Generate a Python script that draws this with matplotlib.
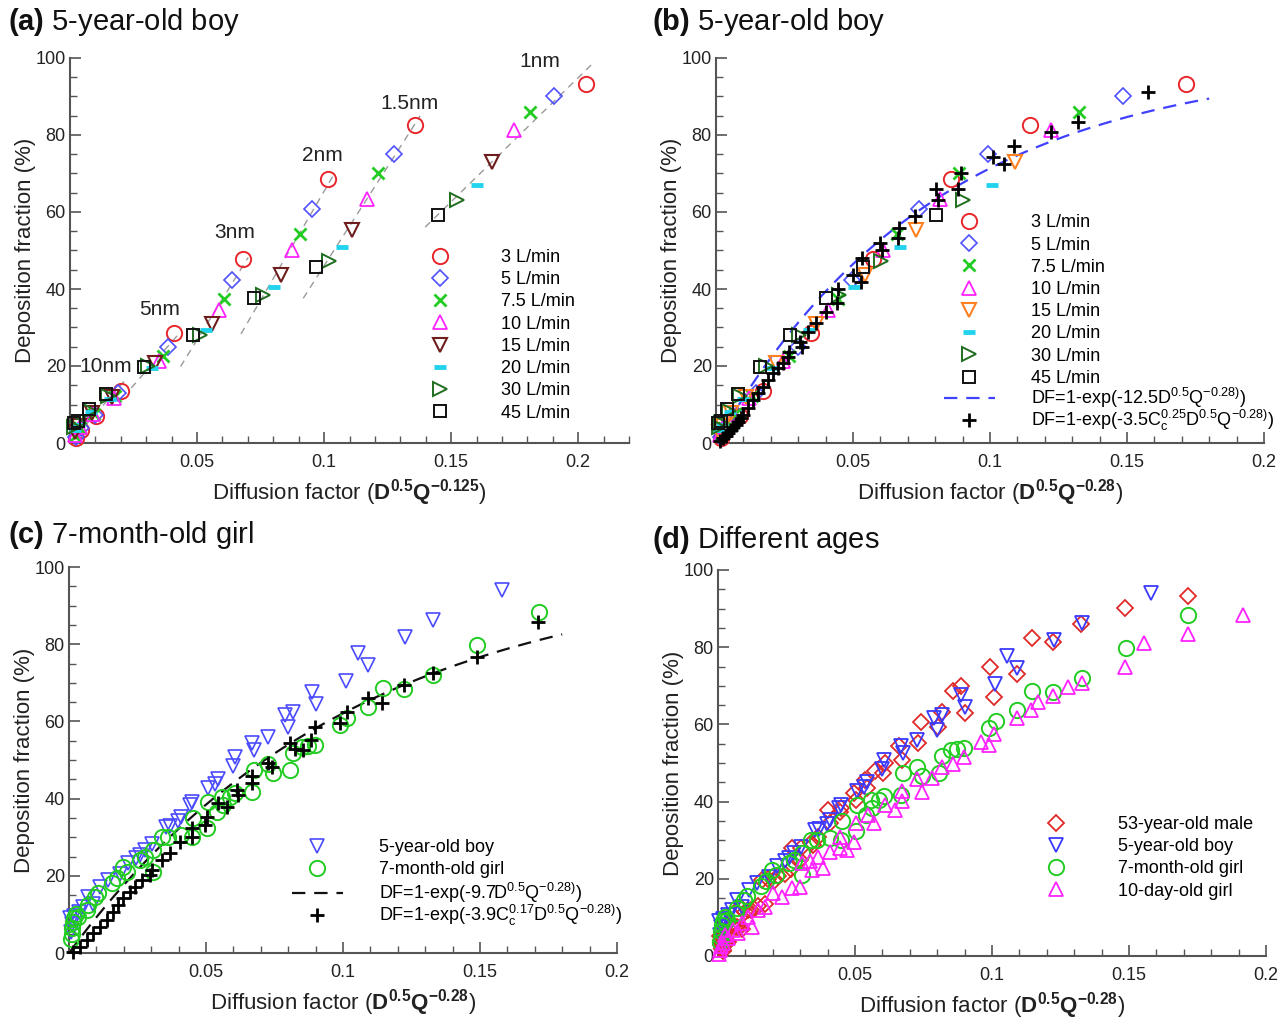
import numpy as np
import matplotlib.pyplot as plt

plt.rcParams['font.family'] = ['Liberation Sans', 'DejaVu Sans']
plt.rcParams['mathtext.fontset'] = 'custom'
plt.rcParams['mathtext.rm'] = 'Liberation Sans'
plt.rcParams['mathtext.bf'] = 'Liberation Sans:bold'
plt.rcParams['mathtext.it'] = 'Liberation Sans:italic'
plt.rcParams['mathtext.sf'] = 'Liberation Sans'

# ---- 5-year-old boy, rows = particle size, columns = flow rate ----
flows = ['3 L/min', '5 L/min', '7.5 L/min', '10 L/min',
         '15 L/min', '20 L/min', '30 L/min', '45 L/min']
sizes = ['1nm', '1.5nm', '2nm', '3nm', '5nm', '10nm', '20nm', '50nm', '100nm']

# diffusion factor D^0.5 Q^-0.125 (panel a)
xa_boy = [
    [0.2032, 0.1906, 0.1812, 0.1748, 0.1662, 0.1603, 0.1524, 0.1448],
    [0.1358, 0.1274, 0.1211, 0.1168, 0.1111, 0.1071, 0.1019, 0.0968],
    [0.1015, 0.0952, 0.0905, 0.0873, 0.0830, 0.0801, 0.0761, 0.0723],
    [0.0681, 0.0639, 0.0607, 0.0586, 0.0557, 0.0537, 0.0511, 0.0485],
    [0.0409, 0.0384, 0.0365, 0.0352, 0.0335, 0.0323, 0.0307, 0.0291],
    [0.0201, 0.0189, 0.0179, 0.0173, 0.0164, 0.0159, 0.0151, 0.0143],
    [0.0104, 0.0098, 0.0093, 0.0089, 0.0085, 0.0082, 0.0078, 0.0074],
    [0.0045, 0.0042, 0.0040, 0.0039, 0.0037, 0.0036, 0.0034, 0.0032],
    [0.0023, 0.0022, 0.0021, 0.0020, 0.0019, 0.0018, 0.0017, 0.0016],
]
# diffusion factor D^0.5 Q^-0.28 (panels b, d)
xb_boy = [
    [0.1714, 0.1485, 0.1326, 0.1223, 0.1092, 0.1008, 0.0900, 0.0803],
    [0.1145, 0.0993, 0.0886, 0.0817, 0.0730, 0.0673, 0.0602, 0.0537],
    [0.0856, 0.0742, 0.0662, 0.0611, 0.0545, 0.0504, 0.0449, 0.0401],
    [0.0574, 0.0498, 0.0444, 0.0410, 0.0366, 0.0338, 0.0302, 0.0269],
    [0.0345, 0.0299, 0.0267, 0.0246, 0.0220, 0.0203, 0.0181, 0.0161],
    [0.0170, 0.0147, 0.0131, 0.0121, 0.0108, 0.0100, 0.0089, 0.0079],
    [0.0088, 0.0076, 0.0068, 0.0062, 0.0056, 0.0052, 0.0046, 0.0041],
    [0.0038, 0.0033, 0.0029, 0.0027, 0.0024, 0.0023, 0.0020, 0.0018],
    [0.0019, 0.0017, 0.0015, 0.0014, 0.0012, 0.0011, 0.0010, 0.0009],
]
df_boy = [
    [93.3, 90.2, 85.9, 81.3, 73.1, 67.1, 63.0, 59.2],
    [82.5, 75.0, 70.0, 63.3, 55.3, 50.8, 47.3, 45.6],
    [68.7, 60.7, 54.4, 50.1, 43.6, 40.4, 38.4, 37.7],
    [47.8, 42.3, 37.3, 34.5, 30.9, 29.4, 28.1, 28.1],
    [28.7, 25.0, 22.6, 21.2, 20.7, 19.4, 19.9, 19.7],
    [13.4, 13.0, 12.2, 11.8, 12.0, 11.5, 12.2, 12.6],
    [6.9, 7.3, 7.5, 7.6, 7.9, 8.0, 8.4, 8.8],
    [3.5, 3.8, 4.0, 4.2, 4.5, 4.8, 5.2, 5.8],
    [1.2, 1.5, 1.8, 2.2, 2.8, 3.5, 4.2, 5.2],
]
size_label_pos = [(0.185, 99.0), (0.1335, 88.3), (0.0992, 74.8),
                  (0.065, 54.8), (0.0354, 34.8), (0.0142, 20.0)]

# model with slip correction, panel b
bplus_x = [0.1578, 0.1322, 0.1221, 0.1089, 0.1010, 0.1052, 0.0894, 0.0802, 0.0882,
           0.0811, 0.0726, 0.0669, 0.0665, 0.0599, 0.0605, 0.0532, 0.0501, 0.0528,
           0.0446, 0.0440, 0.0401, 0.0365, 0.0337, 0.0307, 0.0313, 0.0268, 0.0264,
           0.0246, 0.0227, 0.0209, 0.0191, 0.0173, 0.0154, 0.0136, 0.0118, 0.0100,
           0.0090, 0.0081, 0.0072, 0.0063, 0.0055, 0.0045, 0.0036, 0.0027, 0.0015]
bplus_y = [91.2, 83.5, 80.9, 77.1, 74.4, 72.4, 70.2, 66.1, 66.1,
           63.1, 59.0, 55.8, 53.2, 51.9, 50.1, 48.0, 43.6, 41.9,
           39.9, 36.3, 34.1, 31.1, 28.9, 26.3, 25.0, 23.7, 22.4,
           20.7, 19.4, 18.1, 16.4, 14.6, 12.9, 11.2, 9.0, 7.3,
           6.4, 5.5, 4.8, 4.2, 3.4, 2.5, 1.8, 1.2, 0.4]
coef_b = 12.5

# ---- panels c, d ----
boy_x = [0.1581, 0.1327, 0.1226, 0.1056, 0.1092, 0.1010, 0.0886, 0.0900, 0.0819,
         0.0788, 0.0801, 0.0727, 0.0667, 0.0676, 0.0606, 0.0600, 0.0545, 0.0533,
         0.0508, 0.0448, 0.0442, 0.0409, 0.0399, 0.0369, 0.0354, 0.0302, 0.0277,
         0.0259, 0.0245, 0.0216, 0.0185, 0.0143, 0.0113, 0.0086, 0.0071, 0.0050,
         0.0035, 0.0020, 0.0012, 0.0008, 0.0005]
boy_y = [94.0, 86.3, 81.9, 77.6, 74.6, 70.5, 67.7, 64.4, 62.5,
         61.7, 58.5, 56.0, 54.3, 52.6, 50.9, 48.4, 45.2, 43.8,
         42.7, 39.2, 38.3, 35.3, 34.3, 32.9, 32.6, 28.2, 26.7,
         25.4, 24.5, 23.4, 20.5, 18.9, 17.2, 12.8, 14.6, 12.0,
         10.5, 9.5, 7.5, 5.5, 9.0]
girl7m_x = [0.1715, 0.1488, 0.1327, 0.1224, 0.1147, 0.1092, 0.1013, 0.0989, 0.0898,
            0.0873, 0.0849, 0.0819, 0.0807, 0.0746, 0.0727, 0.0676, 0.0667, 0.0606,
            0.0588, 0.0563, 0.0557, 0.0539, 0.0508, 0.0502, 0.0454, 0.0448, 0.0409,
            0.0362, 0.0338, 0.0308, 0.0305, 0.0277, 0.0259, 0.0211, 0.0198, 0.0174,
            0.0156, 0.0107, 0.0095, 0.0071, 0.0065, 0.0034, 0.0025, 0.0020, 0.0015,
            0.0012, 0.0010, 0.0008]
girl7m_y = [88.4, 79.8, 72.0, 68.3, 68.6, 63.8, 61.0, 59.1, 53.9,
            53.6, 53.4, 51.7, 47.4, 46.6, 49.0, 47.4, 41.8, 41.4,
            40.3, 38.3, 40.5, 36.6, 39.2, 32.3, 34.9, 30.1, 30.6,
            30.1, 30.1, 26.7, 21.0, 24.9, 24.1, 21.1, 22.4, 19.4,
            18.1, 15.5, 14.6, 12.4, 11.1, 9.4, 10.0, 9.0, 8.0,
            6.5, 5.0, 3.5]
cplus_x = [0.1713, 0.1488, 0.1327, 0.1224, 0.1141, 0.1092, 0.1013, 0.0989, 0.0898,
           0.0883, 0.0855, 0.0825, 0.0807, 0.0740, 0.0727, 0.0667, 0.0667, 0.0612,
           0.0618, 0.0576, 0.0545, 0.0503, 0.0496, 0.0448, 0.0448, 0.0405, 0.0369,
           0.0338, 0.0302, 0.0296, 0.0265, 0.0241, 0.0223, 0.0198, 0.0180, 0.0162,
           0.0138, 0.0113, 0.0089, 0.0065, 0.0040, 0.0016]
cplus_y = [85.8, 76.6, 72.5, 69.4, 64.7, 66.0, 62.5, 59.5, 58.6,
           55.2, 52.6, 52.8, 54.3, 48.3, 49.1, 45.9, 44.0, 42.2,
           40.9, 37.9, 38.8, 35.3, 33.2, 32.3, 30.1, 28.8, 25.8,
           24.1, 21.5, 20.2, 18.9, 17.2, 15.9, 14.2, 12.4, 10.7,
           8.5, 6.8, 5.1, 3.4, 1.6, 0.3]
coef_c = 9.7
girl10d_x = [0.1917, 0.1714, 0.1555, 0.1485, 0.1327, 0.1279, 0.1224, 0.1167, 0.1141,
             0.1092, 0.1008, 0.0990, 0.0960, 0.0898, 0.0859, 0.0816, 0.0780, 0.0746,
             0.0725, 0.0670, 0.0670, 0.0646, 0.0609, 0.0571, 0.0548, 0.0502, 0.0498,
             0.0470, 0.0445, 0.0445, 0.0409, 0.0384, 0.0366, 0.0342, 0.0336, 0.0305,
             0.0299, 0.0269, 0.0232, 0.0202, 0.0172, 0.0147, 0.0123, 0.0111, 0.0086,
             0.0074, 0.0056, 0.0038, 0.0025, 0.0019, 0.0012, 0.0008, 0.0005]
girl10d_y = [88.3, 83.4, 81.2, 74.8, 70.6, 69.8, 67.4, 65.9, 63.7,
             61.6, 57.4, 54.7, 55.5, 51.5, 49.7, 48.9, 46.2, 42.6,
             45.8, 42.8, 40.2, 37.8, 39.1, 34.5, 36.5, 34.4, 29.6,
             27.5, 30.9, 27.9, 27.0, 22.7, 25.7, 22.3, 24.7, 24.0,
             18.0, 17.5, 15.4, 16.2, 12.8, 11.9, 7.6, 10.2, 8.5,
             5.9, 6.7, 4.6, 5.5, 3.3, 2.5, 1.5, 0.5]

xa_boy = np.array(xa_boy)
xb_boy = np.array(xb_boy)
df_boy = np.array(df_boy)

W, H = 1286, 1019
fig = plt.figure(figsize=(W / 100, H / 100), dpi=100)


def px_axes(x0, y0, x1, y1):
    return fig.add_axes([x0 / W, 1 - y1 / H, (x1 - x0) / W, (y1 - y0) / H])


axc_color = '#555555'


def style(ax, xmax, xlabel):
    ax.set_xlim(0, xmax)
    ax.set_ylim(0, 100)
    for s in ['top', 'right']:
        ax.spines[s].set_visible(False)
    for s in ['left', 'bottom']:
        ax.spines[s].set_color(axc_color)
        ax.spines[s].set_linewidth(1.5)
    ax.set_xticks([0.05, 0.1, 0.15, 0.2])
    ax.set_xticklabels(['0.05', '0.1', '0.15', '0.2'])
    ax.set_xticks(np.arange(0.01, xmax + 1e-9, 0.01), minor=True)
    ax.set_yticks([0, 20, 40, 60, 80, 100])
    ax.set_yticks(np.arange(0, 101, 5), minor=True)
    ax.tick_params(which='both', direction='in', color=axc_color, labelsize=13,
                   labelcolor='#222222')
    ax.tick_params(which='major', length=8, width=1.2)
    ax.tick_params(which='minor', length=5, width=1.0)
    ax.tick_params(axis='x', pad=8)
    ax.tick_params(axis='y', pad=3)
    ax.set_ylabel('Deposition fraction (%)', fontsize=16, labelpad=0, color='#222222')
    ax.set_xlabel(xlabel, fontsize=16, labelpad=4, color='#222222')


def legend(ax, x, y, handles=None, spacing=0.29):
    kw = dict(loc='upper left', bbox_to_anchor=(x, y), frameon=False, fontsize=13,
              handlelength=2.8, handletextpad=2.0, labelspacing=spacing,
              borderaxespad=0, borderpad=0, numpoints=1)
    if handles is None:
        return ax.legend(**kw)
    leg = ax.legend(handles=handles, **kw)
    return leg


flow_styles = [
    dict(marker='o', color='#e8262b', ms=11, mfc='none', mew=1.4),
    dict(marker='D', color='#5050ff', ms=8.5, mfc='none', mew=1.2),
    dict(marker='x', color='#22cc22', ms=8, mew=2.0),
    dict(marker='^', color='#ff22ff', ms=9.5, mfc='none', mew=1.3),
    dict(marker='v', color='#6e1c1c', ms=9.5, mfc='none', mew=1.5),
    dict(marker='_', color='#22d3ee', ms=8, mew=3.5),
    dict(marker='>', color='#1f6e1f', ms=9.5, mfc='none', mew=1.4),
    dict(marker='s', color='#111111', ms=8, mfc='none', mew=1.4),
]
xlab_125 = r'Diffusion factor ($\mathbf{D^{0.5}Q^{-0.125}}$)'
xlab_28 = r'Diffusion factor ($\mathbf{D^{0.5}Q^{-0.28}}$)'

# ---------------- (a) ----------------
ax = px_axes(70, 58, 629, 443)
style(ax, 0.22, xlab_125)
for i in range(5):
    k, b = np.polyfit(xa_boy[i], df_boy[i], 1)
    xs = np.array([xa_boy[i].min() - 0.005, xa_boy[i].max() + 0.002])
    ax.plot(xs, k * xs + b, color='#9a9a9a', lw=1.0, dashes=(5, 4), zorder=1)
small = np.concatenate([xa_boy[5], xa_boy[6]])
k = np.sum(small * np.concatenate([df_boy[5], df_boy[6]])) / np.sum(small ** 2)
xs = np.array([0.0, 0.0225])
ax.plot(xs, k * xs, color='#9a9a9a', lw=1.0, dashes=(5, 4), zorder=1)
for j, lab in enumerate(flows):
    ax.plot(xa_boy[:, j], df_boy[:, j], ls='none', label=lab, clip_on=False,
            zorder=3, **flow_styles[j])
for lab, (tx, ty) in zip(sizes, size_label_pos):
    ax.text(tx, ty, lab, fontsize=15, ha='center', va='center', color='#222222')
legend(ax, 0.616, 0.504)

# ---------------- (b) ----------------
ax = px_axes(716, 58, 1264, 443)
style(ax, 0.2, xlab_28)
styles_b = [dict(s) for s in flow_styles]
styles_b[4]['color'] = '#ff8020'
flow_handles = []
for j, lab in enumerate(flows):
    h, = ax.plot(xb_boy[:, j], df_boy[:, j], ls='none', label=lab, clip_on=False,
                 zorder=3, **styles_b[j])
    flow_handles.append(h)
xc = np.linspace(0, 0.18, 120)
h1, = ax.plot(xc, 100 * (1 - np.exp(-coef_b * xc)), color='#4040ff', lw=1.6,
              dashes=(6, 4), label=r'DF=1-exp(-12.5D$^{0.5}$Q$^{-0.28)}$)', zorder=2)
h2, = ax.plot(bplus_x, bplus_y, ls='none', marker='+', ms=10, mew=2, color='black',
              clip_on=False, zorder=4,
              label=r'DF=1-exp(-3.5C$_\mathrm{c}^{0.25}$D$^{0.5}$Q$^{-0.28)}$)')
leg = legend(ax, 0.416, 0.594, flow_handles)
ax.add_artist(leg)
legend(ax, 0.416, 0.148, [h1, h2], spacing=-0.12)

# ---------------- (c) ----------------
ax = px_axes(69, 567, 617, 953)
style(ax, 0.2, xlab_28)
g1, = ax.plot(boy_x, boy_y, ls='none', marker='v', ms=9.5, mfc='none', mew=1.2,
              color='#4a4aff', clip_on=False, zorder=3, label='5-year-old boy')
g2, = ax.plot(girl7m_x, girl7m_y, ls='none', marker='o', ms=11, mfc='none', mew=1.4,
              color='#22cc22', clip_on=False, zorder=3, label='7-month-old girl')
g3, = ax.plot(xc, 100 * (1 - np.exp(-coef_c * xc)), color='#111111', lw=1.6,
              dashes=(6, 4), label=r'DF=1-exp(-9.7D$^{0.5}$Q$^{-0.28)}$)', zorder=2)
g4, = ax.plot(cplus_x, cplus_y, ls='none', marker='+', ms=10, mew=2, color='black',
              clip_on=False, zorder=4,
              label=r'DF=1-exp(-3.9C$_\mathrm{c}^{0.17}$D$^{0.5}$Q$^{-0.28)}$)')
leg = legend(ax, 0.407, 0.295, [g1, g2])
ax.add_artist(leg)
legend(ax, 0.407, 0.186, [g3, g4], spacing=-0.12)

# ---------------- (d) ----------------
ax = px_axes(718, 570, 1266, 956)
style(ax, 0.2, xlab_28)
ax.plot(xb_boy.ravel(), df_boy.ravel(), ls='none', marker='D', ms=8.5, mfc='none',
        mew=1.3, color='#e02a2a', clip_on=False, zorder=3, label='53-year-old male')
ax.plot(boy_x, boy_y, ls='none', marker='v', ms=9.5, mfc='none', mew=1.3,
        color='#3a3aff', clip_on=False, zorder=3, label='5-year-old boy')
ax.plot(girl7m_x, girl7m_y, ls='none', marker='o', ms=11, mfc='none', mew=1.4,
        color='#22cc22', clip_on=False, zorder=3, label='7-month-old girl')
ax.plot(girl10d_x, girl10d_y, ls='none', marker='^', ms=9.5, mfc='none', mew=1.3,
        color='#ff22ff', clip_on=False, zorder=3, label='10-day-old girl')
legend(ax, 0.571, 0.363)

# panel titles
for tx, ty, letter, name in [(8, 22, 'a', '5-year-old boy'), (652, 22, 'b', '5-year-old boy'),
                             (8, 535, 'c', '7-month-old girl'), (652, 540, 'd', 'Different ages')]:
    fig.text(tx / W, 1 - ty / H, r'$\mathbf{(' + letter + ')}$ ' + name,
             fontsize=21, ha='left', va='center', color='#111111')

fig.savefig('out.png', dpi=100)
